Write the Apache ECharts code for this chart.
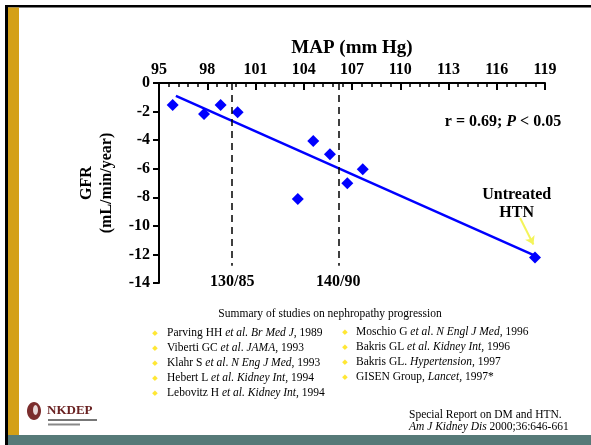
<!DOCTYPE html>
<html>
<head>
<meta charset="utf-8">
<script src="https://cdn.jsdelivr.net/npm/echarts@6/dist/echarts.min.js"></script>
<style>
html, body { margin: 0; padding: 0; background: #fff; }
#chart { width: 591px; height: 445px; }
</style>
</head>
<body>
<div id="chart"></div>
<script>
// one point per study: MAP (mm Hg) vs GFR change (mL/min/year)
var mapValues = [95.85, 97.8, 98.83, 99.89, 103.63, 104.59, 105.63, 106.71, 107.67, 118.38];
var gfrValues = [-1.54, -2.17, -1.54, -2.04, -8.12, -4.06, -4.99, -7.02, -6.03, -12.22];

// regression line end points
var fitMap = [96.05, 118.3];
var fitGfr = [-0.9, -12.05];

// BP goals drawn as MAP
var goalMap = [99.55, 106.15];
var goalLabels = ['130/85', '140/90'];
var goalBottom = -12.8;

// axes
var xMin = 95, xMax = 119, xStep = 3;
var yMin = -14, yMax = 0, yStep = 2;

// annotations (data coords)
var statText = 'r = 0.69; {i|P} < 0.05';
var statPos = [116.39, -2.73];
var htnText = 'Untreated\nHTN';
var htnPos = [117.24, -8.47];
var arrowFrom = [117.45, -9.45];
var arrowTo = [118.28, -11.3];

var summaryTitle = 'Summary of studies on nephropathy progression';
var leftRefs = [
  'Parving HH {i|et al. Br Med J}, 1989',
  'Viberti GC {i|et al}. {i|JAMA}, 1993',
  'Klahr S {i|et al}. {i|N Eng J Med}, 1993',
  'Hebert L {i|et al. Kidney Int}, 1994',
  'Lebovitz H {i|et al. Kidney Int}, 1994'
];
var rightRefs = [
  'Moschio G {i|et al}. {i|N Engl J Med}, 1996',
  'Bakris GL {i|et al. Kidney Int}, 1996',
  'Bakris GL. {i|Hypertension}, 1997',
  'GISEN Group, {i|Lancet,} 1997*'
];
var sourceLines = ['Special Report on DM and HTN.', '{i|Am J Kidney Dis} 2000;36:646-661'];

var serif = '"Liberation Serif", "Times New Roman", serif';
var chart = echarts.init(document.getElementById('chart'));

var points = mapValues.map(function (m, i) { return [m, gfrValues[i]]; });
var boldText = { fontFamily: serif, fontWeight: 'bold', fontSize: 16, color: '#000' };

var option = {
  animation: false,
  backgroundColor: '#fff',
  grid: { left: 159, top: 83, right: 46, bottom: 162, containLabel: false },
  xAxis: {
    type: 'value',
    position: 'top',
    min: xMin,
    max: xMax,
    interval: xStep,
    name: 'MAP (mm Hg)',
    nameLocation: 'middle',
    nameGap: 25,
    nameTextStyle: { fontFamily: serif, fontWeight: 'bold', fontSize: 19, color: '#000' },
    axisLine: { show: true, onZero: false, lineStyle: { color: '#000', width: 2 } },
    axisTick: { show: true, inside: true, length: 7, lineStyle: { color: '#000', width: 2 } },
    minorTick: { show: true, splitNumber: 5, length: 4, lineStyle: { color: '#000', width: 1.5 } },
    axisLabel: Object.assign({ margin: 5 }, boldText),
    splitLine: { show: false },
    minorSplitLine: { show: false }
  },
  yAxis: {
    type: 'value',
    min: yMin,
    max: yMax,
    interval: yStep,
    name: 'GFR\n(mL/min/year)',
    nameLocation: 'middle',
    nameRotate: 90,
    nameGap: 42,
    nameTextStyle: { fontFamily: serif, fontWeight: 'bold', fontSize: 16, lineHeight: 20, color: '#000' },
    axisLine: { show: true, onZero: false, lineStyle: { color: '#000', width: 2 } },
    axisTick: { show: true, inside: false, length: 6, lineStyle: { color: '#000', width: 2 } },
    axisLabel: Object.assign({ margin: 9 }, boldText),
    splitLine: { show: false }
  },
  series: [
    {
      name: 'studies',
      type: 'scatter',
      symbol: 'diamond',
      symbolSize: 12,
      itemStyle: { color: '#0000ff', opacity: 1 },
      data: points,
      z: 3,
      markLine: {
        silent: true,
        symbol: ['none', 'none'],
        lineStyle: { color: '#000', width: 1.5, type: [7, 5] },
        label: Object.assign({
          show: true,
          position: 'end',
          distance: 8,
          formatter: function (p) { return goalLabels[p.dataIndex]; }
        }, boldText),
        data: goalMap.map(function (m) {
          return [{ coord: [m, yMax] }, { coord: [m, goalBottom] }];
        })
      }
    },
    {
      name: 'fit',
      type: 'line',
      symbol: 'none',
      showSymbol: false,
      lineStyle: { color: '#0000ff', width: 2.5 },
      data: [[fitMap[0], fitGfr[0]], [fitMap[1], fitGfr[1]]],
      z: 2,
      markLine: {
        silent: true,
        symbol: ['none', 'arrow'],
        symbolSize: 8,
        lineStyle: { color: '#f4f45a', width: 2, type: 'solid' },
        label: { show: false },
        data: [[{ coord: arrowFrom }, { coord: arrowTo }]]
      }
    }
  ]
};

chart.setOption(option);

// annotations and slide frame
function at(v) { return chart.convertToPixel({ gridIndex: 0 }, v); }
var italic = { fontStyle: 'italic', fontFamily: serif, fontSize: 11.5, fill: '#000' };
var statXY = at(statPos);
var htnXY = at(htnPos);

var graphic = [
  { type: 'rect', shape: { x: 5, y: 5, width: 586, height: 2.5 }, style: { fill: '#000' } },
  { type: 'rect', shape: { x: 5, y: 5, width: 3, height: 440 }, style: { fill: '#000' } },
  { type: 'rect', shape: { x: 8, y: 7.5, width: 11, height: 428 }, style: { fill: '#d4a017' } },
  { type: 'rect', shape: { x: 8, y: 435, width: 583, height: 10 }, style: { fill: '#567a78' } },
  {
    type: 'text', x: statXY[0], y: statXY[1],
    style: {
      text: statText, align: 'center', verticalAlign: 'middle',
      fontFamily: serif, fontWeight: 'bold', fontSize: 16, fill: '#000',
      rich: { i: { fontStyle: 'italic', fontWeight: 'bold', fontFamily: serif, fontSize: 16, fill: '#000' } }
    }
  },
  {
    type: 'text', x: htnXY[0], y: htnXY[1],
    style: {
      text: htnText, align: 'center', verticalAlign: 'middle', lineHeight: 18,
      fontFamily: serif, fontWeight: 'bold', fontSize: 16, fill: '#000'
    }
  },
  {
    type: 'text', x: 330, y: 314,
    style: { text: summaryTitle, align: 'center', verticalAlign: 'middle', fontFamily: serif, fontSize: 11.5, fill: '#000' }
  },
  {
    type: 'text', x: 409, y: 421,
    style: { text: sourceLines.join('\n'), verticalAlign: 'middle', lineHeight: 12.5, fontFamily: serif, fontSize: 11.5, fill: '#000', rich: { i: italic } }
  },
  // NKDEP logo
  { type: 'ellipse', shape: { cx: 34, cy: 411, rx: 7, ry: 9 }, style: { fill: '#7b2d2d' } },
  { type: 'ellipse', shape: { cx: 35.5, cy: 410, rx: 2.5, ry: 5 }, style: { fill: '#e8d8d8' } },
  {
    type: 'text', x: 47, y: 411,
    style: { text: 'NKDEP', verticalAlign: 'middle', fontFamily: serif, fontWeight: 'bold', fontSize: 13, fill: '#6a2222' }
  },
  { type: 'rect', shape: { x: 48, y: 419, width: 49, height: 2 }, style: { fill: '#777' } },
  { type: 'rect', shape: { x: 48, y: 423.5, width: 32, height: 2 }, style: { fill: '#888' } }
];

function addRefs(list, bx, tx, y0) {
  list.forEach(function (t, i) {
    var y = y0 + i * 15.1;
    graphic.push({ type: 'text', x: bx, y: y, style: { text: '\u25C6', align: 'center', verticalAlign: 'middle', fontSize: 7, fontFamily: 'DejaVu Sans', fill: '#ffe733' } });
    graphic.push({
      type: 'text', x: tx, y: y,
      style: { text: t, verticalAlign: 'middle', fontFamily: serif, fontSize: 11.5, fill: '#000', rich: { i: italic } }
    });
  });
}
addRefs(leftRefs, 155, 167, 333);
addRefs(rightRefs, 345, 356, 332);

chart.setOption({ graphic: graphic });
</script>
</body>
</html>
